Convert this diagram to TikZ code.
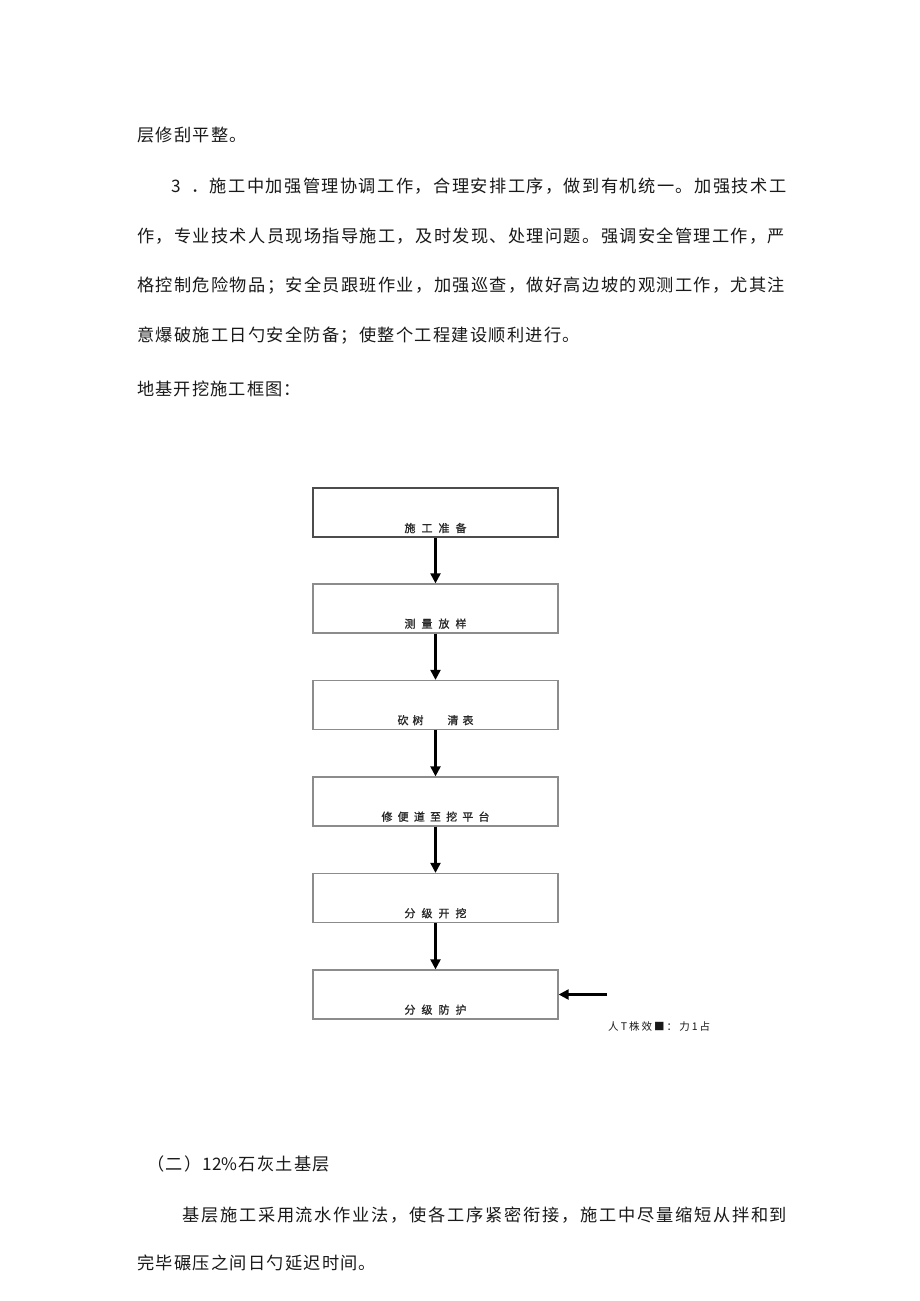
\documentclass[tikz,border=0pt]{standalone}
\usepackage{fontspec}
\setmainfont{Noto Sans CJK SC}
\usetikzlibrary{arrows.meta}
\newcommand{\bodyfont}{\fontsize{17.2pt}{18pt}\selectfont}
\newcommand{\lblfont}{\fontsize{11pt}{12pt}\selectfont\addfontfeature{FakeBold=1}}
\makeatletter
\newcommand{\spreadbox}[2]{\hbox to #1{\spread@chars#2\@nil}}
\def\spread@chars#1#2\@nil{#1\ifx\relax#2\relax\else\hfil\spread@chars#2\@nil\fi}
\makeatother
\tikzset{
  txt/.style={anchor=west, inner sep=0pt, text=black!90},
  stepbox/.style={draw=black!45, line width=1.3pt, minimum width=245pt, minimum height=49pt, inner sep=0pt},
  firstbox/.style={stepbox, draw=black!70, line width=2pt},
  lbl/.style={inner sep=0pt, text=black!85},
  flow/.style={draw=black, line width=2.2pt, -{Triangle[length=10pt,width=10pt]}}
}
\begin{document}
\begin{tikzpicture}[x=1pt,y=-1pt]
\useasboundingbox (0,0) rectangle (920,1301);
\fill[white] (0,0) rectangle (920,1301);
% upper paragraph
\node[txt] (p0) at (137,135) {\bodyfont\spreadbox{110pt}{层修刮平整。}};
\node[txt] (p1a) at (171,186) {\bodyfont 3};
\node[txt] (p1b) at (191,186) {\bodyfont\spreadbox{595pt}{．施工中加强管理协调工作，合理安排工序，做到有机统一。加强技术工}};
\node[txt] (p2) at (137,236) {\bodyfont\spreadbox{648pt}{作，专业技术人员现场指导施工，及时发现、处理问题。强调安全管理工作，严}};
\node[txt] (p3) at (137,286) {\bodyfont\spreadbox{648pt}{格控制危险物品；安全员跟班作业，加强巡查，做好高边坡的观测工作，尤其注}};
\node[txt] (p4) at (137,336) {\bodyfont\spreadbox{443pt}{意爆破施工日勺安全防备；使整个工程建设顺利进行。}};
\node[txt] (p5) at (137,389) {\bodyfont\spreadbox{164pt}{地基开挖施工框图：}};
% flow chart
\node[firstbox] (b1) at (435.5,512.5) {};
\node[stepbox] (b2) at (435.5,608.5) {};
\node[stepbox] (b3) at (435.5,705) {};
\node[stepbox] (b4) at (435.5,801.5) {};
\node[stepbox] (b5) at (435.5,898) {};
\node[stepbox] (b6) at (435.5,994.5) {};
\node[lbl] (l1) at ([yshift=10pt]b1.south) {\lblfont\spreadbox{62pt}{施工准备}};
\node[lbl] (l2) at ([yshift=10pt]b2.south) {\lblfont\spreadbox{62pt}{测量放样}};
\node[lbl] (l3) at ([yshift=10pt]b3.south) {\lblfont\hbox to 76pt{砍\hspace{4pt}树\hfill 清\hspace{4pt}表}};
\node[lbl] (l4) at ([yshift=10pt]b4.south) {\lblfont\spreadbox{108pt}{修便道至挖平台}};
\node[lbl] (l5) at ([yshift=10pt]b5.south) {\lblfont\spreadbox{62pt}{分级开挖}};
\node[lbl] (l6) at ([yshift=10pt]b6.south) {\lblfont\spreadbox{62pt}{分级防护}};
\draw[flow] (b1) -- (b2);
\draw[flow] (b2) -- (b3);
\draw[flow] (b3) -- (b4);
\draw[flow] (b4) -- (b5);
\draw[flow] (b5) -- (b6);
\coordinate (side) at (607,994.5);
\draw[flow] (side) -- (b6.east);
\node[txt] (cap) at (608,1027) {\fontsize{10.5pt}{12pt}\selectfont\spreadbox{102pt}{人T株效■：力1占}};
% lower paragraph
\node[txt] (q0) at (147,1164) {\bodyfont\spreadbox{183pt}{（二）{12\%}石灰土基层}};
\node[txt] (q1) at (182,1215) {\bodyfont\spreadbox{605pt}{基层施工采用流水作业法，使各工序紧密衔接，施工中尽量缩短从拌和到}};
\node[txt] (q2) at (137,1263) {\bodyfont\spreadbox{239pt}{完毕碾压之间日勺延迟时间。}};
\end{tikzpicture}
\end{document}
